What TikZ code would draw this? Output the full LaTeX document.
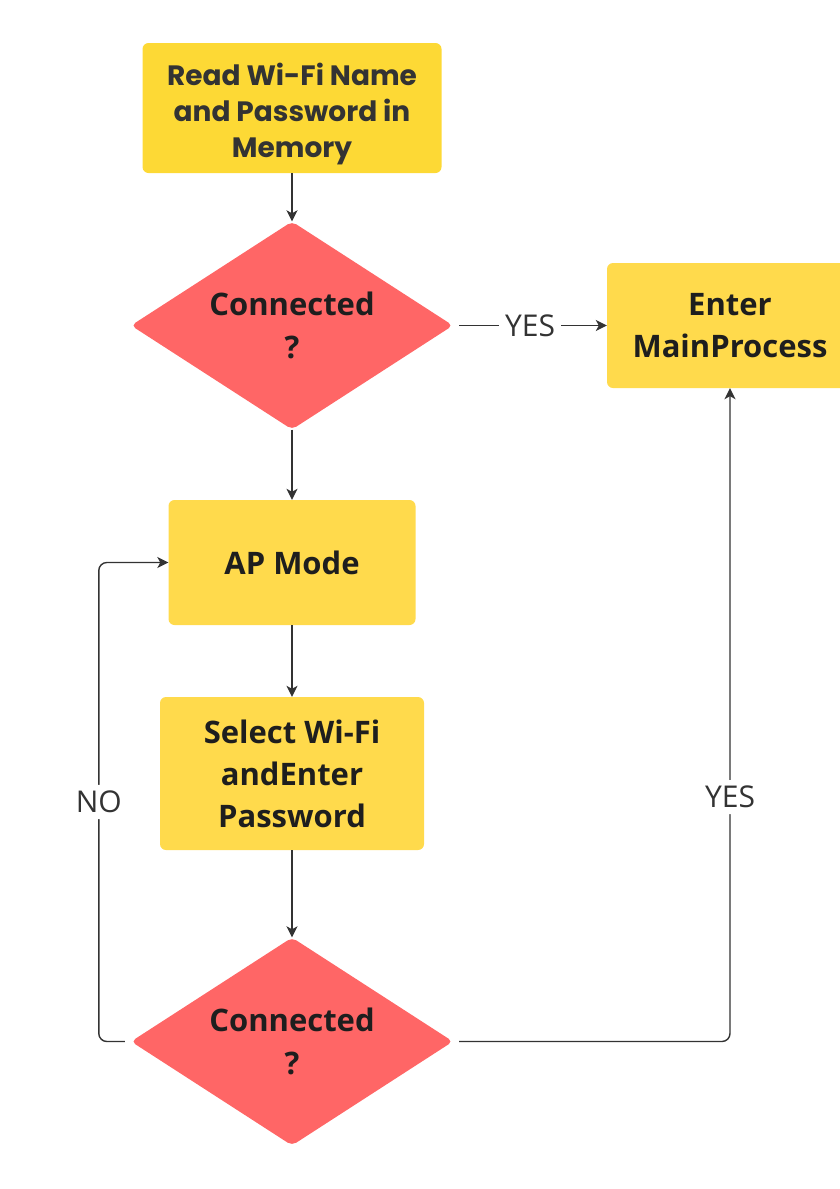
\documentclass[tikz,border=0pt]{standalone}
\usepackage{fontspec}
\usetikzlibrary{shapes.geometric,arrows.meta}
\newfontfamily\popfont{Poppins}
\newfontfamily\notofont{Open Sans}
\definecolor{boxyellow}{HTML}{FFDA4C}
\definecolor{topyellow}{HTML}{FDD935}
\definecolor{decred}{HTML}{FF6666}
\definecolor{linegray}{HTML}{333333}
\definecolor{textgray}{HTML}{1E1E1E}

\begin{document}
\begin{tikzpicture}[x=1pt, y=-1pt,
  procbox/.style={draw=none, fill=boxyellow, rounded corners=6pt, align=center, inner sep=0pt,
    text=textgray, font=\notofont\bfseries\fontsize{31}{42}\selectfont},
  decision/.style={diamond, aspect=1.55, draw=none, fill=decred, rounded corners=5pt, inner sep=0pt, align=center,
    minimum width=322pt, minimum height=208pt, text=textgray, font=\notofont\bfseries\fontsize{31}{43}\selectfont},
  flow/.style={draw=linegray, line width=1.4pt, -{Stealth[length=11pt, width=11pt, inset=3pt]}},
  lbl/.style={fill=white, inner sep=6pt, text=linegray, font=\notofont\fontsize{30}{34}\selectfont}]
 \useasboundingbox (0,0) rectangle (840,1189);

 % boxes
 \node[procbox, fill=topyellow, minimum width=299pt, minimum height=130pt,
   font=\popfont\bfseries\fontsize{28}{36}\selectfont, text=linegray] (read) at (292,108)
   {\raisebox{-6pt}[\height][\depth]{\begin{tabular}{@{}c@{}}Read Wi-Fi Name\\and Password in\\Memory\end{tabular}}};
 \node[decision] (conn1) at (292,325.5) {Connected\\?};
 \node[procbox, minimum width=246pt, minimum height=125pt] (main) at (730,325.5) {Enter\\MainProcess};
 \node[procbox, minimum width=247pt, minimum height=125pt] (ap) at (292,562.5) {AP Mode};
 \node[procbox, minimum width=264pt, minimum height=153pt] (sel) at (292,773.5) {Select Wi-Fi\\andEnter\\Password};
 \node[decision] (conn2) at (292,1041.5) {Connected\\?};

 % connectors
 \draw[flow] (read) -- (conn1);
 \draw[flow, shorten <=6pt] (conn1.east) -- node[lbl] {YES} (main.west);
 \draw[flow] (conn1) -- (ap);
 \draw[flow] (ap) -- (sel);
 \draw[flow] (sel) -- (conn2);
 \draw[flow, rounded corners=8pt, shorten <=6pt] (conn2.west) -- ++(-32,0) |- node[lbl, pos=0.25] {NO} (ap.west);
 \draw[flow, rounded corners=8pt, shorten <=6pt] (conn2.east) -| node[lbl, pos=0.687] {YES} (main.south);
\end{tikzpicture}
\end{document}
